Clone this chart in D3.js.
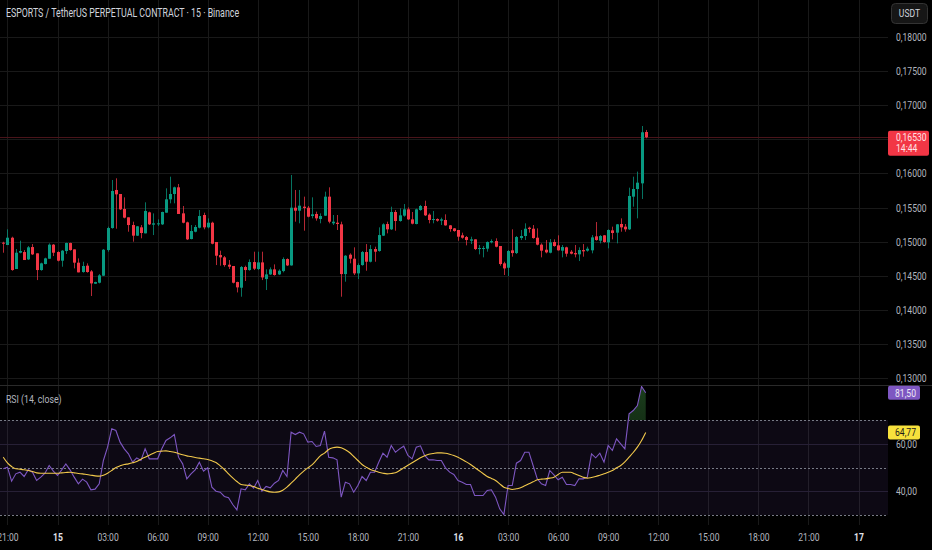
<!DOCTYPE html>
<html><head><meta charset="utf-8">
<script src="https://cdn.jsdelivr.net/npm/d3@7"></script>
<style>
html,body{margin:0;padding:0;background:#000;overflow:hidden;}
svg{display:block;}
</style></head><body>
<svg id="c" width="932" height="550"></svg>
<script>
// ---------- DATA ----------
const title = "ESPORTS / TetherUS PERPETUAL CONTRACT · 15 · Binance";
const rsiTitle = "RSI (14, close)";
const currency = "USDT";
// hours relative to 15th 00:00; first candle 14th 20:45, 15-minute candles
const firstCandleHour = -3.25;
const candleStepHours = 0.25;
const opens = [.14984,.14950,.15057,.14598,.14837,.14847,.14739,.14920,.14828,.14583,.14671,.14749,.14955,.14847,.14720,.14862,.14979,.14886,.14691,.14554,
.14647,.14563,.14382,.14397,.14500,.14876,.15199,.15757,.15698,.15478,.15356,.15243,.15087,.15209,.15121,.15429,.15248,.15253,.15253,.15424,
.15620,.15698,.15796,.15414,.15282,.15038,.15145,.15204,.15390,.15209,.15277,.14994,.14803,.14769,.14661,.14642,.14407,.14324,.14627,.14583,
.14700,.14598,.14695,.14451,.14519,.14593,.14519,.14568,.14744,.14651,.15497,.15453,.15512,.15497,.15375,.15405,.15331,.15380,.15659,.15268,
.15277,.15253,.14524,.14808,.14749,.14534,.14656,.14847,.14705,.14891,.14862,.15087,.15258,.15180,.15434,.15302,.15380,.15473,.15326,.15258,
.15463,.15522,.15395,.15317,.15331,.15307,.15317,.15238,.15194,.15170,.15092,.15067,.15013,.15033,.14891,.14896,.14896,.14989,.15008,.14935,
.14681,.14617,.14872,.14832,.15052,.15082,.15204,.15189,.15057,.14955,.14881,.14837,.14994,.14945,.14867,.14916,.14852,.14832,.14813,.14876,
.14867,.14872,.15077,.15013,.15092,.14989,.15165,.15131,.15258,.15219,.15180,.15659,.15771,.15854,.16607];
const highs = [.14998,.15180,.15072,.14891,.15013,.14876,.14935,.14964,.14828,.14691,.14764,.14974,.14964,.14857,.14876,.14984,.14984,.14886,.14754,.14705,
.14681,.14583,.14412,.14524,.14891,.15219,.15903,.15928,.15698,.15649,.15356,.15292,.15229,.15243,.15576,.15439,.15414,.15326,.15439,.15781,
.15952,.15806,.15845,.15522,.15292,.15243,.15243,.15463,.15424,.15341,.15292,.14994,.14867,.14788,.14730,.14642,.14412,.14642,.14647,.14739,
.14852,.14852,.14852,.14593,.14622,.14666,.14593,.14769,.14754,.15977,.15757,.15757,.15659,.15522,.15649,.15439,.15414,.15732,.15796,.15390,
.15390,.15292,.14803,.14828,.14916,.14681,.14862,.14964,.14950,.14925,.15209,.15268,.15292,.15512,.15463,.15488,.15551,.15502,.15434,.15483,
.15537,.15600,.15414,.15449,.15341,.15351,.15400,.15243,.15199,.15170,.15131,.15082,.15072,.15033,.14950,.14935,.15003,.15033,.15048,.14935,
.14705,.14876,.15180,.15082,.15170,.15268,.15219,.15243,.15194,.14974,.15023,.15038,.15033,.15092,.14950,.14925,.14876,.14950,.14916,.14964,
.14925,.15096,.15287,.15096,.15096,.15180,.15219,.15258,.15341,.15258,.15791,.15952,.16026,.16695,.16637];
const lows = [.14837,.14950,.14573,.14598,.14828,.14730,.14730,.14803,.14436,.14573,.14666,.14749,.14788,.14710,.14632,.14818,.14867,.14607,.14549,.14544,
.14544,.14202,.14378,.14387,.14495,.14852,.15189,.15189,.15463,.15341,.15145,.14999,.15082,.15048,.15121,.15243,.15096,.15229,.15243,.15424,
.15561,.15561,.15405,.15268,.15023,.15033,.15136,.15194,.15180,.15194,.14960,.14656,.14647,.14632,.14598,.14387,.14255,.14192,.14422,.14573,
.14583,.14583,.14436,.14290,.14510,.14500,.14510,.14549,.14642,.14647,.15292,.15268,.15160,.15356,.15341,.15307,.15268,.15375,.15268,.15243,
.15170,.14192,.14412,.14681,.14510,.14451,.14647,.14573,.14695,.14705,.14852,.15082,.15121,.15170,.15160,.15292,.15365,.15317,.15253,.15253,
.15453,.15375,.15268,.15268,.15292,.15243,.15233,.15145,.15145,.15013,.15043,.14945,.14964,.14876,.14813,.14769,.14852,.14974,.14916,.14647,
.14510,.14495,.14779,.14818,.15023,.15023,.15131,.15043,.14945,.14769,.14828,.14828,.14925,.14867,.14769,.14779,.14813,.14769,.14715,.14779,
.14852,.14828,.15013,.14974,.14984,.14901,.15033,.14974,.15145,.15145,.15170,.15512,.15341,.15625,.16515];
const closes = [.14974,.15057,.14583,.14837,.14862,.14730,.14916,.14813,.14583,.14681,.14754,.14955,.14837,.14720,.14867,.14979,.14876,.14691,.14549,.14642,
.14554,.14387,.14407,.14505,.14881,.15199,.15742,.15693,.15473,.15351,.15243,.15087,.15224,.15126,.15449,.15253,.15268,.15268,.15434,.15620,
.15698,.15796,.15405,.15277,.15033,.15155,.15214,.15375,.15209,.15277,.14969,.14793,.14769,.14656,.14632,.14397,.14329,.14627,.14583,.14700,
.14603,.14695,.14475,.14519,.14593,.14510,.14573,.14744,.14651,.15497,.15453,.15527,.15493,.15365,.15400,.15341,.15375,.15659,.15292,.15292,
.15258,.14524,.14793,.14749,.14534,.14656,.14847,.14705,.14891,.14852,.15096,.15253,.15180,.15434,.15302,.15385,.15473,.15326,.15263,.15473,
.15522,.15385,.15317,.15331,.15307,.15326,.15238,.15184,.15155,.15072,.15057,.15023,.15033,.14891,.14906,.14906,.14994,.15008,.14925,.14671,
.14607,.14862,.14832,.15067,.15082,.15189,.15184,.15052,.14955,.14867,.14842,.14989,.14935,.14872,.14920,.14823,.14823,.14813,.14876,.14857,
.14896,.15062,.15023,.15082,.14994,.15170,.15126,.15253,.15209,.15180,.15669,.15771,.15864,.16603,.16530];
const rsi = [49.44,50.14,44.24,47.33,48.03,46.21,49.02,48.03,44.53,45.93,47.61,50.84,48.45,46.63,49.02,51.54,49.02,45.93,43.12,45.09,
43.82,40.60,40.88,43.12,52.95,58.56,66.28,65.58,60.67,57.86,55.75,52.24,54.07,52.95,57.86,53.65,53.65,53.65,57.86,61.37,
62.49,63.89,54.35,51.54,45.23,47.33,49.02,52.24,48.45,49.86,41.72,40.03,39.61,37.79,37.23,34.42,32.17,41.02,40.60,43.12,
41.30,44.53,40.03,42.00,41.44,43.40,44.53,48.74,46.21,64.88,63.89,64.88,64.17,60.67,60.95,58.84,59.26,65.30,54.35,54.07,
53.23,37.51,43.82,43.12,39.61,42.42,46.21,44.53,48.03,48.03,52.24,56.03,54.35,59.26,56.45,57.86,58.98,55.05,53.65,58.56,
59.12,55.05,53.23,53.23,52.95,52.95,49.86,48.03,47.05,44.53,43.82,42.84,42.84,38.21,38.21,38.21,40.32,40.60,37.51,32.60,
30.21,42.42,42.42,51.82,52.95,56.45,56.45,50.84,45.23,43.12,42.42,48.74,46.91,44.81,45.93,42.84,42.84,42.42,45.23,45.23,
45.93,55.75,54.07,56.03,52.24,59.26,57.16,62.07,59.96,57.86,72.60,74.00,76.10,84.10,81.50];
const rsiMa = [54.35,51.96,50.42,49.44,49.30,49.02,48.74,48.31,47.75,47.61,47.61,47.61,47.61,47.61,47.75,47.89,48.03,47.75,47.47,47.33,
47.05,46.77,46.49,46.35,46.77,47.61,48.74,50.00,50.70,51.26,51.54,51.96,52.52,53.51,54.35,55.19,56.03,56.74,56.88,57.02,
56.74,56.45,55.89,55.33,54.91,54.63,54.21,53.93,53.65,53.37,52.81,52.10,50.70,49.16,47.33,45.65,44.10,42.84,42.56,42.42,
42.00,41.30,40.74,40.17,39.75,39.61,39.75,40.46,41.72,43.40,45.09,46.91,48.45,49.86,51.12,52.95,54.91,56.03,57.58,58.28,
58.56,58.28,57.44,56.31,54.63,52.95,51.26,50.14,49.16,48.59,48.03,47.61,47.33,47.47,47.75,48.74,49.86,50.98,51.96,53.09,
54.07,54.91,55.61,55.89,56.17,56.17,56.03,55.61,55.05,54.35,53.37,52.38,51.26,50.00,48.74,47.47,46.21,45.37,44.53,43.12,
41.72,41.16,40.74,41.02,41.44,42.28,43.12,43.96,44.81,45.09,45.23,45.51,45.93,47.05,48.03,48.03,48.03,47.33,46.63,45.93,
45.51,45.79,46.21,46.77,47.33,48.03,48.74,49.86,50.84,52.38,54.35,56.31,58.56,61.37,64.77];
const priceTicks = [0.13,0.135,0.14,0.145,0.15,0.155,0.16,0.165,0.17,0.175,0.18];
const priceLabelTicks = [0.13,0.135,0.14,0.145,0.15,0.155,0.16,0.17,0.175,0.18];
const rsiLevels = [70,50,30];
const rsiGridTicks = [60,40];
const timeTickHours = [-3,0,3,6,9,12,15,18,21,24,27,30,33,36,39,42,45,48];
const timeLabels = ["21:00","15","03:00","06:00","09:00","12:00","15:00","18:00","21:00","16","03:00","06:00","09:00","12:00","15:00","18:00","21:00","17"];
const dayLabels = ["15","16","17"];
const countdown = "14:44";

// ---------- LAYOUT ----------
const W=932, H=550, PR=888, P1B=385, P2B=525, SX=0.78;
const FONT = "Roboto, 'Noto Sans', sans-serif";
const loc = d3.formatLocale({decimal:",",thousands:".",grouping:[3],currency:["",""]});
const fmtP = loc.format(".5f"), fmtR = loc.format(".2f");
const GREEN="#089981", RED="#f23645", GRID="#191919", TXT="#b2b5be";

const svg = d3.select("#c").style("font-family", FONT);
svg.append("rect").attr("width",W).attr("height",H).attr("fill","#000");

const x = d3.scaleLinear().domain([-3,48]).range([7.44,858.5]);
const yP = d3.scaleLinear().domain([0.13,0.18]).range([378,37]);
const yR = d3.scaleLinear().domain([30,70]).range([515,420]);

function squeeze(sel, sx=SX){
  sel.each(function(){
    const t=d3.select(this); const xx=+(t.attr("x")||0);
    t.attr("x", xx/sx).attr("transform", `scale(${sx},1)`);
  });
}
function label(g, txt, xx, yy, opts={}){
  const t = g.append("text").attr("x",xx).attr("y",yy).text(txt)
    .attr("font-size",opts.size||11).attr("fill",opts.fill||TXT)
    .attr("text-anchor",opts.anchor||"start").attr("font-weight",opts.weight||400);
  squeeze(t, opts.sx||SX); return t;
}

svg.append("defs").html(`
 <clipPath id="cp1"><rect x="0" y="0" width="${PR}" height="${P1B}"/></clipPath>
 <clipPath id="cp2"><rect x="0" y="${P1B+1}" width="${PR}" height="${P2B-P1B-1}"/></clipPath>
 <clipPath id="cpOB"><rect x="0" y="${P1B+1}" width="${PR}" height="${yR(70)-P1B-1}"/></clipPath>
 <clipPath id="cpOS"><rect x="0" y="${yR(30)}" width="${PR}" height="${P2B-yR(30)}"/></clipPath>
 <linearGradient id="gOB" x1="0" y1="0" x2="0" y2="1"><stop offset="0" stop-color="rgba(76,175,80,0.35)"/><stop offset="1" stop-color="rgba(76,175,80,0.08)"/></linearGradient>
 <linearGradient id="gOS" x1="0" y1="0" x2="0" y2="1"><stop offset="0" stop-color="rgba(242,54,69,0.08)"/><stop offset="1" stop-color="rgba(242,54,69,0.35)"/></linearGradient>
`);

// grid
const grid = svg.append("g").attr("shape-rendering","crispEdges");
grid.selectAll("line.v").data(timeTickHours).join("line")
  .attr("x1",d=>Math.round(x(d))+0.5).attr("x2",d=>Math.round(x(d))+0.5)
  .attr("y1",0).attr("y2",P2B).attr("stroke",GRID);
grid.selectAll("line.h").data(priceTicks).join("line").attr("class","h")
  .attr("x1",0).attr("x2",PR).attr("y1",d=>Math.round(yP(d))+0.5).attr("y2",d=>Math.round(yP(d))+0.5).attr("stroke",GRID);

// RSI band
svg.append("rect").attr("x",0).attr("width",PR).attr("y",yR(70)).attr("height",yR(30)-yR(70))
  .attr("fill","rgba(126,87,194,0.1)");
grid.selectAll("line.r").data(rsiGridTicks).join("line").attr("class","r")
  .attr("x1",0).attr("x2",PR).attr("y1",d=>Math.round(yR(d))+0.5).attr("y2",d=>Math.round(yR(d))+0.5).attr("stroke","#1d1a26");
svg.append("g").selectAll("line").data(rsiLevels).join("line")
  .attr("x1",0).attr("x2",PR).attr("y1",d=>Math.round(yR(d))+0.5).attr("y2",d=>Math.round(yR(d))+0.5)
  .attr("stroke","#787b86").attr("stroke-dasharray","2,2").attr("shape-rendering","crispEdges");

// last price line
const lastClose = closes[closes.length-1];
svg.append("line").attr("x1",0).attr("x2",PR).attr("y1",Math.round(yP(lastClose))+0.5).attr("y2",Math.round(yP(lastClose))+0.5)
  .attr("stroke","#4a141a").attr("shape-rendering","crispEdges");

// candles
const idx = d3.range(opens.length);
const cx = i => x(firstCandleHour + i*candleStepHours);
const cg = svg.append("g").attr("clip-path","url(#cp1)");
cg.selectAll("line").data(idx).join("line")
  .attr("x1",i=>Math.round(cx(i))+0.5).attr("x2",i=>Math.round(cx(i))+0.5)
  .attr("y1",i=>yP(highs[i])).attr("y2",i=>yP(lows[i]))
  .attr("stroke",i=>closes[i]>=opens[i]?GREEN:RED).attr("stroke-opacity",0.75);
cg.selectAll("rect").data(idx).join("rect")
  .attr("x",i=>Math.round(cx(i))-1).attr("width",3)
  .attr("y",i=>yP(Math.max(opens[i],closes[i])))
  .attr("height",i=>Math.max(1,Math.abs(yP(opens[i])-yP(closes[i]))))
  .attr("fill",i=>closes[i]>=opens[i]?GREEN:RED);

// RSI fills and lines
const rg = svg.append("g").attr("clip-path","url(#cp2)");
const areaOB = d3.area().x(i=>cx(i)).y0(yR(70)).y1(i=>yR(rsi[i]));
rg.append("path").datum(idx).attr("d",areaOB).attr("fill","url(#gOB)").attr("clip-path","url(#cpOB)");
const areaOS = d3.area().x(i=>cx(i)).y0(yR(30)).y1(i=>yR(rsi[i]));
rg.append("g").attr("clip-path","url(#cpOS)").append("path").datum(idx).attr("d",areaOS).attr("fill","url(#gOS)");
rg.append("path").datum(idx).attr("d",d3.line().x(i=>cx(i)).y(i=>yR(rsi[i])))
  .attr("fill","none").attr("stroke","#7e57c2").attr("stroke-width",1.1);
rg.append("path").datum(idx).attr("d",d3.line().curve(d3.curveMonotoneX).x(i=>cx(i)).y(i=>yR(rsiMa[i])))
  .attr("fill","none").attr("stroke","#f2c94c").attr("stroke-width",1.1);

// pane separator
svg.append("line").attr("x1",0).attr("x2",W).attr("y1",P1B+0.5).attr("y2",P1B+0.5).attr("stroke","#2a2a2a").attr("shape-rendering","crispEdges");

// price axis
const axP = svg.append("g").attr("transform",`translate(${PR},0)`)
  .call(d3.axisRight(yP).tickValues(priceLabelTicks).tickFormat(fmtP).tickSize(0).tickPadding(8));
axP.select(".domain").remove();
axP.attr("font-family",FONT).attr("font-size",11);
axP.selectAll("text").attr("fill",TXT);
squeeze(axP.selectAll("text"));

// RSI axis
const axR = svg.append("g").attr("transform",`translate(${PR},0)`)
  .call(d3.axisRight(yR).tickValues(rsiGridTicks).tickFormat(fmtR).tickSize(0).tickPadding(8));
axR.select(".domain").remove();
axR.attr("font-family",FONT).attr("font-size",11);
axR.selectAll("text").attr("fill",TXT);
squeeze(axR.selectAll("text"));

// time axis
const axT = svg.append("g").attr("transform",`translate(0,${P2B})`)
  .call(d3.axisBottom(x).tickValues(timeTickHours).tickFormat((d,i)=>timeLabels[i]).tickSize(0).tickPadding(8));
axT.select(".domain").remove();
axT.attr("font-family",FONT).attr("font-size",11);
axT.selectAll("text").attr("fill",(d,i)=>dayLabels.includes(timeLabels[i])?"#e0e3eb":TXT)
  .attr("font-weight",(d,i)=>dayLabels.includes(timeLabels[i])?700:400);
squeeze(axT.selectAll("text"));

// last price label
const ly = yP(lastClose);
const ov = svg.append("g");
ov.append("rect").attr("x",PR).attr("y",ly-6.5).attr("width",41).attr("height",25).attr("rx",2).attr("fill",RED);
label(ov, fmtP(lastClose), 896, ly+3.5, {fill:"#ffe3e6"});
label(ov, countdown, 896, ly+14.5, {fill:"#ffe3e6"});

// RSI value labels
const lastR = rsi[rsi.length-1], lastM = rsiMa[rsiMa.length-1];
ov.append("rect").attr("x",PR).attr("y",yR(lastR)-7).attr("width",32).attr("height",14).attr("rx",2).attr("fill","#7e57c2");
label(ov, fmtR(lastR), 895, yR(lastR)+4, {fill:"#ede7f6"});
ov.append("rect").attr("x",PR).attr("y",yR(lastM)-7).attr("width",32).attr("height",14).attr("rx",2).attr("fill","#f7e13c");
label(ov, fmtR(lastM), 895, yR(lastM)+4, {fill:"#1a1a1a"});

// USDT button
ov.append("rect").attr("x",891.5).attr("y",3.5).attr("width",36).attr("height",20).attr("rx",4)
  .attr("fill","#161616").attr("stroke","#333");
label(ov, currency, 909.5, 17.5, {anchor:"middle", fill:"#d1d4dc"});

// titles
label(ov, title, 6, 17.5, {size:12, fill:"#d1d4dc", sx:0.735});
label(ov, rsiTitle, 6, 403, {size:11.5, fill:TXT, sx:0.76});
</script>
</body></html>
